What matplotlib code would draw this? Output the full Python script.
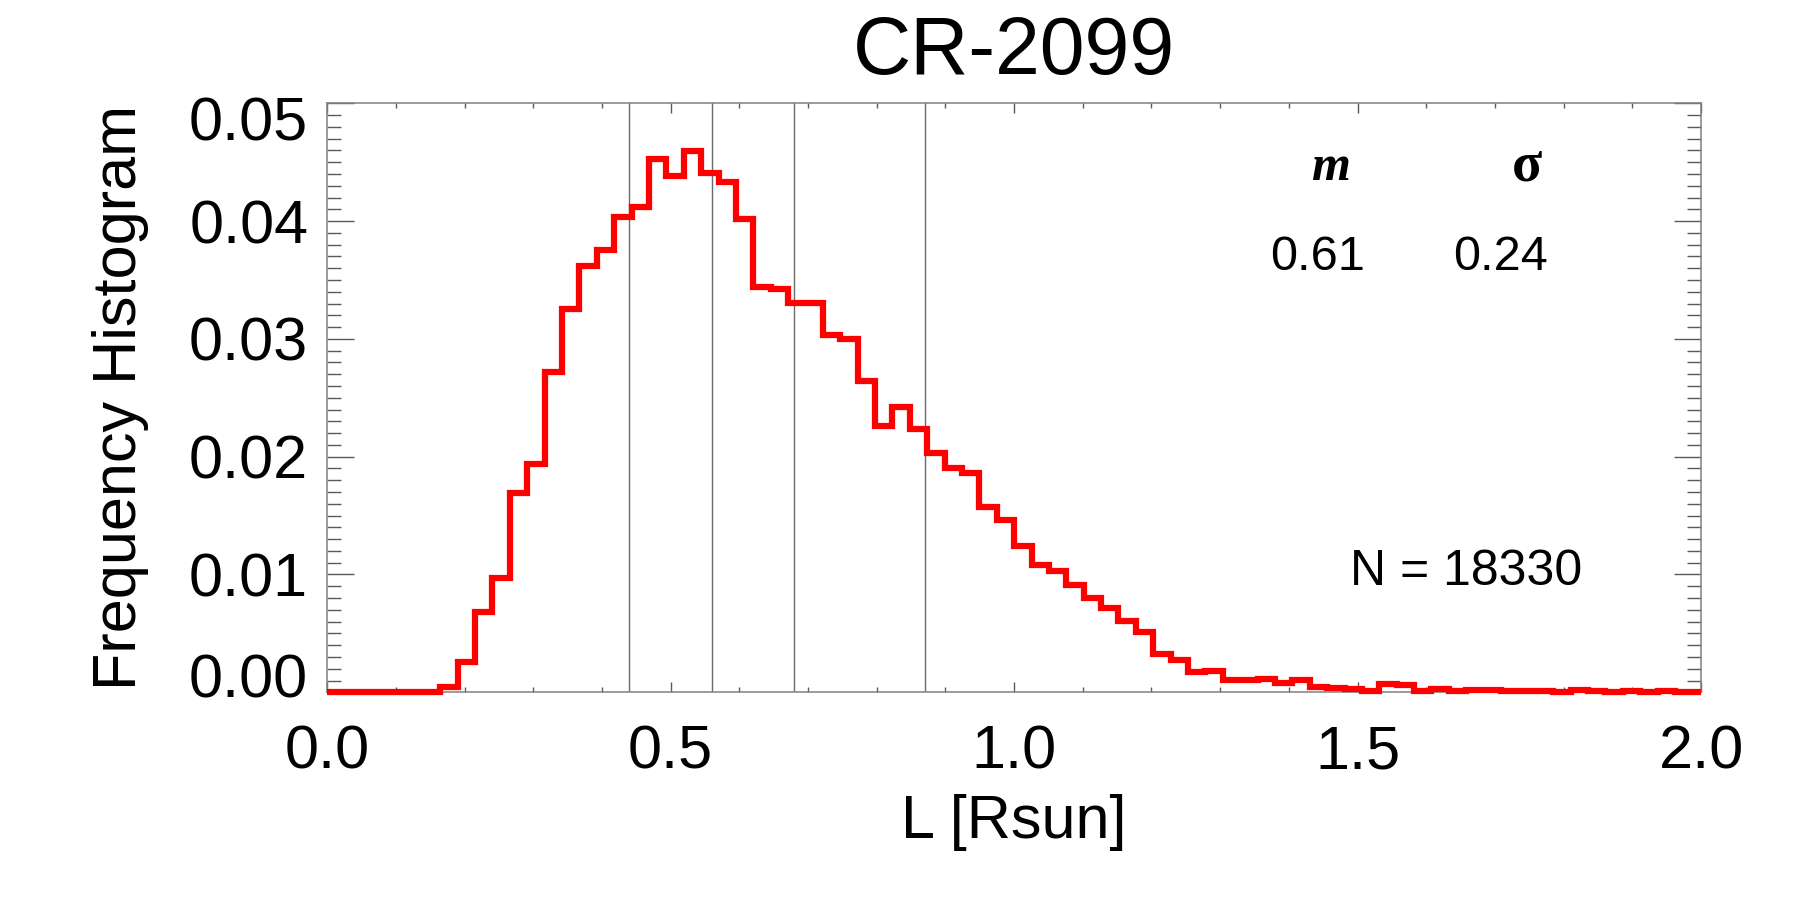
import numpy as np
import matplotlib
matplotlib.use("Agg")
import matplotlib.pyplot as plt
from matplotlib.ticker import MultipleLocator, FormatStrFormatter
from matplotlib.transforms import ScaledTranslation

# ---------------- data ----------------
title = "CR-2099"
xlabel = "L [Rsun]"
ylabel = "Frequency Histogram"
x_min, x_max = 0.0, 2.0
n_bins = 80
freq = [
    0.0, 0.0, 0.0, 0.0, 0.0, 0.0, 0.0,
    0.00042, 0.00255, 0.00680, 0.00973, 0.01695, 0.01938, 0.02722, 0.03251,
    0.03619, 0.03755, 0.04032, 0.04122, 0.04527, 0.04385, 0.04595, 0.04411,
    0.04329, 0.04018, 0.03438, 0.03424, 0.03302, 0.03302, 0.03033, 0.02999,
    0.02646, 0.02260, 0.02421, 0.02233, 0.02031, 0.01907, 0.01863, 0.01570,
    0.01459, 0.01244, 0.01083, 0.01032, 0.00908, 0.00797, 0.00713, 0.00605,
    0.00511, 0.00326, 0.00276, 0.00175, 0.00182, 0.00101, 0.00108, 0.00110,
    0.00080, 0.00105, 0.00048, 0.00034, 0.00025, 0.00014, 0.00068, 0.00059,
    0.00008, 0.00025, 0.00014, 0.00017, 0.00023, 0.00011, 0.00011, 0.00008,
    0.00003, 0.00020, 0.00014, 0.00003, 0.00014, 0.00003, 0.00008, 0.00006,
    0.00003,
]
vlines = [0.44, 0.56, 0.68, 0.87]
mean_label, sigma_label = "m", "σ"
mean_val, sigma_val = "0.61", "0.24"
n_text = "N = 18330"
xticks = [0.0, 0.5, 1.0, 1.5, 2.0]
yticks = [0.00, 0.01, 0.02, 0.03, 0.04, 0.05]

# ---------------- plot ----------------
plt.rcParams['font.family'] = ['Liberation Sans', 'DejaVu Sans']
fig = plt.figure(figsize=(18, 9), dpi=100)
ax = fig.add_axes([0.1818, 0.2308, 0.7632, 0.6544])

x = np.linspace(x_min, x_max, n_bins)

for v in vlines:
    ax.axvline(v, color='#6a6a6a', lw=1.0, zorder=1)

ax.plot(x, freq, drawstyle='steps-mid', color='#ff0000', lw=4.5,
        solid_joinstyle='miter', solid_capstyle='butt', zorder=3, clip_on=False)

ax.set_xlim(x_min, x_max)
ax.set_ylim(0.0, 0.05)

ax.set_xticks(xticks)
ax.set_yticks(yticks)
ax.xaxis.set_major_formatter(FormatStrFormatter('%.1f'))
ax.yaxis.set_major_formatter(FormatStrFormatter('%.2f'))
ax.xaxis.set_minor_locator(MultipleLocator(0.1))
ax.yaxis.set_minor_locator(MultipleLocator(0.001))

tick_col = '#5a5a5a'
ax.tick_params(axis='x', which='major', direction='in', length=7.2, width=1.0,
               color=tick_col, top=True, bottom=True, labelsize=44, pad=23)
ax.tick_params(axis='x', which='minor', direction='in', length=3.6, width=1.0,
               color=tick_col, top=True, bottom=True)
ax.tick_params(axis='y', which='major', direction='in', length=19.4, width=1.0,
               color=tick_col, left=True, right=True, labelsize=44, pad=13.7)
ax.tick_params(axis='y', which='minor', direction='in', length=10, width=1.0,
               color=tick_col, left=True, right=True)

for s in ax.spines.values():
    s.set_color('#808080')
    s.set_linewidth(1.1)

# shift extreme y tick labels inward like the original
ylabels_objs = ax.get_yticklabels()
ylabels_objs[0].set_transform(ylabels_objs[0].get_transform() +
                              ScaledTranslation(0, 0.17, fig.dpi_scale_trans))
ylabels_objs[-1].set_transform(ylabels_objs[-1].get_transform() +
                               ScaledTranslation(0, -0.15, fig.dpi_scale_trans))

ax.set_title(title, fontsize=58, pad=21)
ax.set_xlabel(xlabel, fontsize=44)
ax.set_ylabel(ylabel, fontsize=44)
ax.xaxis.set_label_coords(0.5, -0.1727)
ax.yaxis.set_label_coords(-0.1298, 0.5)

serif = ['Liberation Serif', 'DejaVu Serif']
ax.text(0.7306, 0.8698, mean_label, transform=ax.transAxes, ha='center', va='baseline',
        fontsize=36, family=serif, fontweight='bold', fontstyle='italic')
ax.text(0.8737, 0.8698, sigma_label, transform=ax.transAxes, ha='center', va='baseline',
        fontsize=40, family=serif, fontweight='bold')
ax.text(0.7212, 0.717, mean_val, transform=ax.transAxes, ha='center', va='baseline', fontsize=35)
ax.text(0.8544, 0.717, sigma_val, transform=ax.transAxes, ha='center', va='baseline', fontsize=35)
ax.text(0.8290, 0.1822, n_text, transform=ax.transAxes, ha='center', va='baseline', fontsize=36)

fig.savefig('out.png', dpi=100)
